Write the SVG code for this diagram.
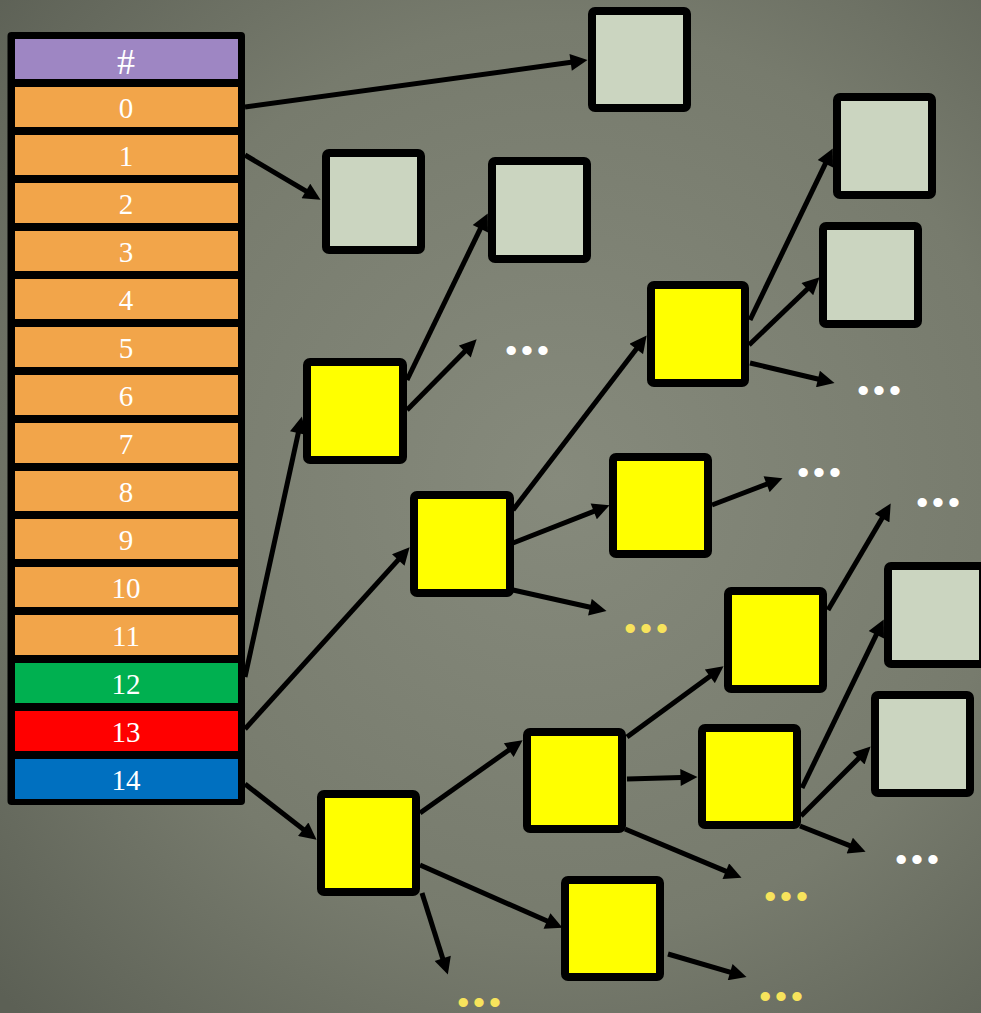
<svg xmlns="http://www.w3.org/2000/svg" width="981" height="1013" viewBox="0 0 981 1013">
<defs>
<radialGradient id="bg" cx="560" cy="480" r="760" gradientUnits="userSpaceOnUse">
<stop offset="0" stop-color="#868A7C"/>
<stop offset="0.6" stop-color="#777B6D"/>
<stop offset="1" stop-color="#5C6055"/>
</radialGradient>
<marker id="ah" viewBox="0 0 10 10" refX="5.6" refY="5" markerWidth="3.6" markerHeight="3.4" markerUnits="strokeWidth" orient="auto">
<path d="M0,0 L10,5 L0,10 z" fill="#000"/>
</marker>
<style>
.c{stroke:#000;stroke-width:5;fill:none;marker-end:url(#ah)}
.g{fill:#CBD5C0;stroke:#000;stroke-width:8}
.y{fill:#FFFF00;stroke:#000;stroke-width:8}
.n{font-family:"Liberation Serif",serif;font-size:29px;fill:#fff;text-anchor:middle}
.dw{font-family:"Liberation Sans",sans-serif;font-size:34px;fill:#fff;text-anchor:middle;letter-spacing:4px}
.dy{font-family:"Liberation Sans",sans-serif;font-size:34px;fill:#F7E35C;text-anchor:middle;letter-spacing:4px}
</style>
</defs>
<rect x="0" y="0" width="981" height="1013" fill="url(#bg)"/>

<g id="connectors">
<line class="c" x1="245" y1="107" x2="580.1" y2="61.1"/>
<line class="c" x1="245" y1="155" x2="314.1" y2="195.9"/>
<line class="c" x1="245" y1="677" x2="300.3" y2="423.8"/>
<line class="c" x1="245" y1="729" x2="404.6" y2="552.9"/>
<line class="c" x1="245" y1="784" x2="310.7" y2="835.1"/>
<line class="c" x1="407" y1="380" x2="484.5" y2="220.2"/>
<line class="c" x1="407" y1="410" x2="471.4" y2="344.7"/>
<line class="c" x1="513" y1="510" x2="642.1" y2="341.4"/>
<line class="c" x1="513" y1="543" x2="602.6" y2="507.9"/>
<line class="c" x1="513" y1="590" x2="599.2" y2="609.3"/>
<line class="c" x1="750" y1="320" x2="829.5" y2="155.2"/>
<line class="c" x1="749" y1="345" x2="814.2" y2="282.5"/>
<line class="c" x1="750" y1="363" x2="827.2" y2="381.2"/>
<line class="c" x1="712" y1="505" x2="775.5" y2="480.8"/>
<line class="c" x1="828" y1="610" x2="886.9" y2="509.9"/>
<line class="c" x1="627" y1="737" x2="717.5" y2="670.7"/>
<line class="c" x1="627" y1="779" x2="690" y2="777.2"/>
<line class="c" x1="625" y1="829" x2="734.6" y2="874.9"/>
<line class="c" x1="802" y1="788" x2="880.5" y2="626.2"/>
<line class="c" x1="801" y1="816" x2="865.3" y2="751.7"/>
<line class="c" x1="800" y1="826" x2="858.6" y2="849.1"/>
<line class="c" x1="420" y1="813" x2="516.5" y2="744.6"/>
<line class="c" x1="420" y1="865" x2="555.7" y2="924.8"/>
<line class="c" x1="422" y1="893" x2="445.6" y2="967.4"/>
<line class="c" x1="668" y1="954" x2="739.3" y2="974.8"/>
</g>

<g id="table">
<rect x="7.5" y="32" width="237.5" height="773" rx="4" fill="#000"/>
<rect x="15" y="39" width="223" height="40" fill="#9E86C3"/>
<text class="n" x="126" y="74" style="font-size:36px">#</text>
<g fill="#F2A54A">
<rect x="15" y="87" width="223" height="40"/>
<rect x="15" y="135" width="223" height="40"/>
<rect x="15" y="183" width="223" height="40"/>
<rect x="15" y="231" width="223" height="40"/>
<rect x="15" y="279" width="223" height="40"/>
<rect x="15" y="327" width="223" height="40"/>
<rect x="15" y="375" width="223" height="40"/>
<rect x="15" y="423" width="223" height="40"/>
<rect x="15" y="471" width="223" height="40"/>
<rect x="15" y="519" width="223" height="40"/>
<rect x="15" y="567" width="223" height="40"/>
<rect x="15" y="615" width="223" height="40"/>
</g>
<rect x="15" y="663" width="223" height="40" fill="#00B050"/>
<rect x="15" y="711" width="223" height="40" fill="#FF0000"/>
<rect x="15" y="759" width="223" height="40" fill="#0070C0"/>
<text class="n" x="126" y="118">0</text>
<text class="n" x="126" y="166">1</text>
<text class="n" x="126" y="214">2</text>
<text class="n" x="126" y="262">3</text>
<text class="n" x="126" y="310">4</text>
<text class="n" x="126" y="358">5</text>
<text class="n" x="126" y="406">6</text>
<text class="n" x="126" y="454">7</text>
<text class="n" x="126" y="502">8</text>
<text class="n" x="126" y="550">9</text>
<text class="n" x="126" y="598">10</text>
<text class="n" x="126" y="646">11</text>
<text class="n" x="126" y="694">12</text>
<text class="n" x="126" y="742">13</text>
<text class="n" x="126" y="790">14</text>
</g>

<g id="g1"><rect class="g" x="592" y="11" width="95" height="97" rx="3"/></g>
<g id="g2"><rect class="g" x="326" y="153" width="95" height="97" rx="3"/></g>
<g id="g3"><rect class="g" x="492" y="161" width="95" height="98" rx="3"/></g>
<g id="g4"><rect class="g" x="837" y="97" width="95" height="98" rx="3"/></g>
<g id="g5"><rect class="g" x="823" y="226" width="95" height="98" rx="3"/></g>
<g id="g6"><rect class="g" x="888" y="566" width="95" height="98" rx="3"/></g>
<g id="g7"><rect class="g" x="875" y="695" width="95" height="98" rx="3"/></g>
<g id="y1"><rect class="y" x="651" y="285" width="94" height="98" rx="3"/></g>
<g id="y2"><rect class="y" x="307" y="362" width="96" height="98" rx="3"/></g>
<g id="y3"><rect class="y" x="414" y="495" width="96" height="98" rx="3"/></g>
<g id="y4"><rect class="y" x="613" y="457" width="95" height="97" rx="3"/></g>
<g id="y5"><rect class="y" x="728" y="591" width="95" height="98" rx="3"/></g>
<g id="y6"><rect class="y" x="527" y="732" width="95" height="97" rx="3"/></g>
<g id="y7"><rect class="y" x="702" y="728" width="95" height="97" rx="3"/></g>
<g id="y8"><rect class="y" x="321" y="794" width="95" height="98" rx="3"/></g>
<g id="y9"><rect class="y" x="565" y="880" width="95" height="97" rx="3"/></g>

<g id="dots">
<text class="dw" x="529" y="362">•••</text>
<text class="dw" x="881" y="402">•••</text>
<text class="dw" x="821" y="484">•••</text>
<text class="dw" x="940" y="514">•••</text>
<text class="dy" x="648" y="640">•••</text>
<text class="dw" x="919" y="871">•••</text>
<text class="dy" x="788" y="908">•••</text>
<text class="dy" x="481" y="1014">•••</text>
<text class="dy" x="783" y="1008">•••</text>
</g>
</svg>
